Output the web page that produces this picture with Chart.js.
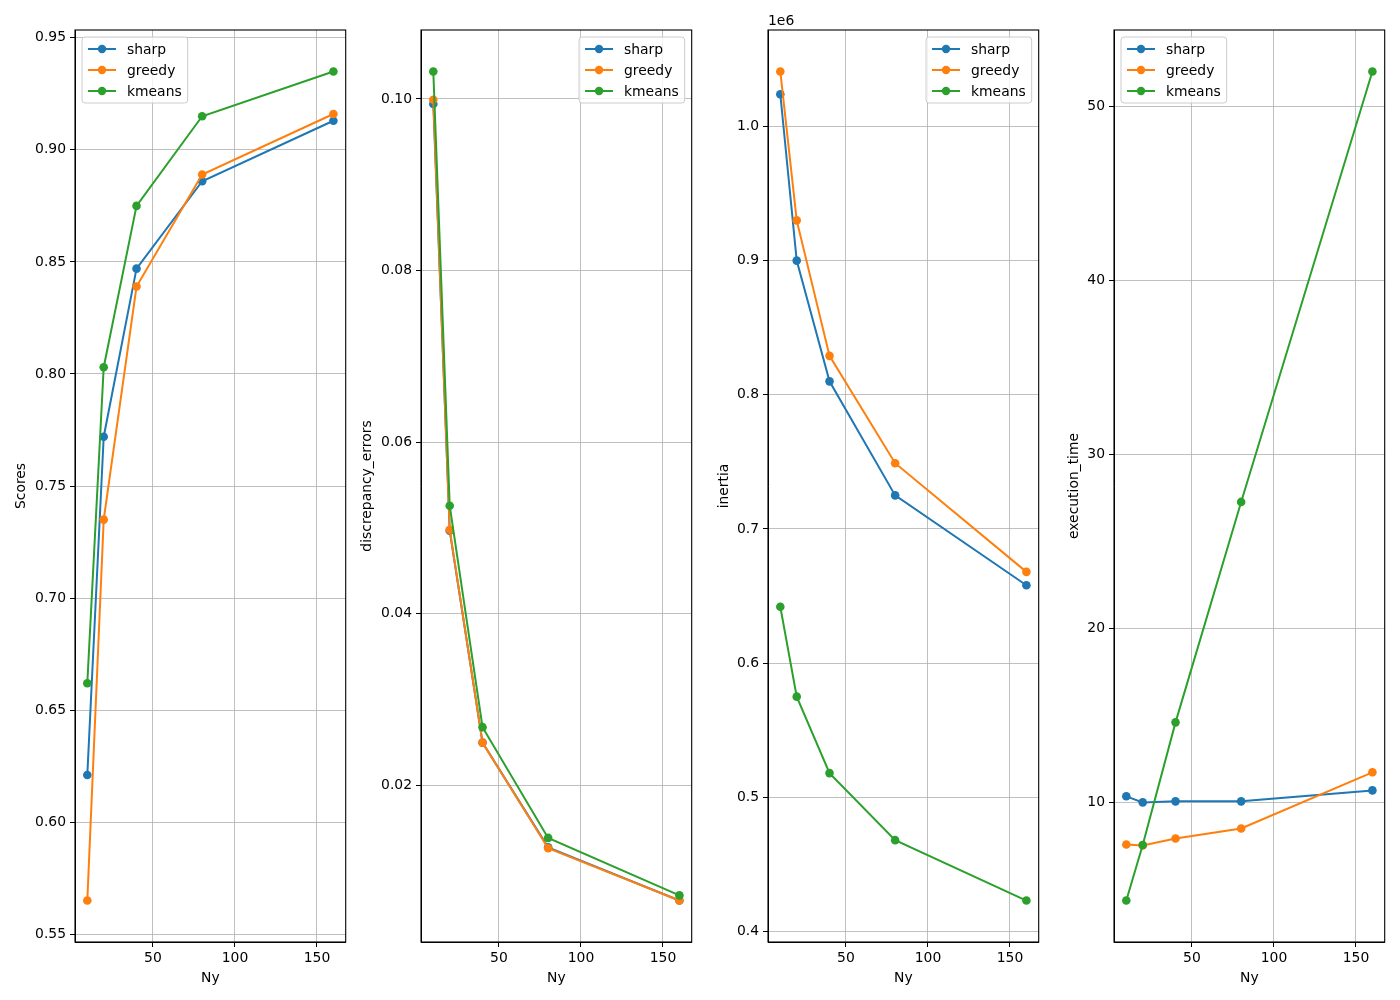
<!DOCTYPE html>
<html>
<head>
<meta charset="utf-8">
<script src="https://cdn.jsdelivr.net/npm/chart.js@4.4.1/dist/chart.umd.min.js"></script>
<style>
    html, body { margin: 0; padding: 0; background: #fff; }
    #wrap { position: relative; width: 1400px; height: 1000px; overflow: hidden; }
    #wrap canvas { position: absolute; top: 0; }
</style>
</head>
<body>
<div id="wrap"></div>
<script>
// values
const ny = [10, 20, 40, 80, 160];
const seriesNames = ['sharp', 'greedy', 'kmeans'];
const seriesColors = ['#1f77b4', '#ff7f0e', '#2ca02c'];

const scoresSharp = [0.621, 0.772, 0.847, 0.886, 0.913];
const scoresGreedy = [0.565, 0.735, 0.839, 0.889, 0.916];
const scoresKmeans = [0.662, 0.803, 0.875, 0.915, 0.935];

const discSharp = [0.0994, 0.0497, 0.0250, 0.0128, 0.0066];
const discGreedy = [0.0999, 0.0498, 0.0250, 0.0127, 0.0066];
const discKmeans = [0.1032, 0.0526, 0.0268, 0.0139, 0.0072];

const inertiaSharp = [1024000, 900000, 810000, 725000, 658000];
const inertiaGreedy = [1041000, 930000, 829000, 749000, 668000];
const inertiaKmeans = [642000, 575000, 518000, 468000, 423000];

const timeSharp = [10.35, 10.0, 10.06, 10.06, 10.69];
const timeGreedy = [7.58, 7.53, 7.93, 8.50, 11.73];
const timeKmeans = [4.36, 7.55, 14.60, 27.27, 52.01];

const xTicks = [50, 100, 150];
const scoresTicks = [0.55, 0.60, 0.65, 0.70, 0.75, 0.80, 0.85, 0.90, 0.95];
const discTicks = [0.02, 0.04, 0.06, 0.08, 0.10];
const inertiaTicks = [400000, 500000, 600000, 700000, 800000, 900000, 1000000];
const timeTicks = [10, 20, 30, 40, 50];

const FONT = 'DejaVu Sans';
const FS = 13.9;

// layout of the four panels (pixels)
const panels = [
    { ylabel: 'Scores', data: [scoresSharp, scoresGreedy, scoresKmeans], ticks: scoresTicks,
      fmt: v => v.toFixed(2), canvasLeft: 9, axisLeft: 75, axisRight: 346, legend: 'left' },
    { ylabel: 'discrepancy_errors', data: [discSharp, discGreedy, discKmeans], ticks: discTicks,
      fmt: v => v.toFixed(2), canvasLeft: 355, axisLeft: 421, axisRight: 692, legend: 'right' },
    { ylabel: 'inertia', data: [inertiaSharp, inertiaGreedy, inertiaKmeans], ticks: inertiaTicks,
      fmt: v => (v / 1e6).toFixed(1), canvasLeft: 712, axisLeft: 768, axisRight: 1039, legend: 'right', offsetText: '1e6' },
    { ylabel: 'execution_time', data: [timeSharp, timeGreedy, timeKmeans], ticks: timeTicks,
      fmt: v => v.toFixed(0), canvasLeft: 1062, axisLeft: 1114, axisRight: 1385, legend: 'left' }
];

function margins(values) {
    const lo = Math.min(...values), hi = Math.max(...values);
    const pad = (hi - lo) * 0.05;
    return [lo - pad, hi + pad];
}

// frame, legend and offset text, drawn the matplotlib way
const axesDecor = {
    id: 'axesDecor',
    afterDraw(chart, args, opts) {
        const ctx = chart.ctx;
        const a = chart.chartArea;
        ctx.save();
        ctx.strokeStyle = '#000';
        ctx.lineWidth = 1.1;
        ctx.strokeRect(a.left, a.top, a.right - a.left, a.bottom - a.top);

        ctx.font = FS + 'px "' + FONT + '"';
        if (opts.offsetText) {
            ctx.fillStyle = '#000';
            ctx.textAlign = 'left';
            ctx.textBaseline = 'middle';
            ctx.fillText(opts.offsetText, a.left, a.top - 9);
        }

        const textW = Math.max(...seriesNames.map(n => ctx.measureText(n).width));
        const w = 6 + 28 + 11 + textW + 6;
        const h = 66;
        const x0 = opts.legend === 'left' ? a.left + 7 : a.right - 7 - w;
        const y0 = a.top + 7;
        ctx.beginPath();
        ctx.roundRect(x0, y0, w, h, 3);
        ctx.fillStyle = 'rgba(255,255,255,0.8)';
        ctx.fill();
        ctx.strokeStyle = '#cccccc';
        ctx.lineWidth = 1;
        ctx.stroke();

        seriesNames.forEach((name, i) => {
            const cy = y0 + 12 + i * 21;
            ctx.strokeStyle = seriesColors[i];
            ctx.lineWidth = 2;
            ctx.beginPath();
            ctx.moveTo(x0 + 6, cy);
            ctx.lineTo(x0 + 34, cy);
            ctx.stroke();
            ctx.fillStyle = seriesColors[i];
            ctx.beginPath();
            ctx.arc(x0 + 20, cy, 4.2, 0, Math.PI * 2);
            ctx.fill();
            ctx.fillStyle = '#000';
            ctx.textAlign = 'left';
            ctx.textBaseline = 'middle';
            ctx.fillText(name, x0 + 45, cy + 1);
        });
        ctx.restore();
    }
};

const wrap = document.getElementById('wrap');
const [xMin, xMax] = margins(ny);

panels.forEach(p => {
    const canvas = document.createElement('canvas');
    const width = p.axisRight + 4 - p.canvasLeft;
    canvas.width = width;
    canvas.height = 1000;
    canvas.style.left = p.canvasLeft + 'px';
    canvas.style.width = width + 'px';
    canvas.style.height = '1000px';
    wrap.appendChild(canvas);

    const [yMin, yMax] = margins(p.data.flat());
    const yWidth = p.axisLeft - p.canvasLeft;

    new Chart(canvas, {
        type: 'line',
        data: {
            datasets: seriesNames.map((name, i) => ({
                label: name,
                data: ny.map((x, j) => ({ x: x, y: p.data[i][j] })),
                borderColor: seriesColors[i],
                backgroundColor: seriesColors[i],
                pointBackgroundColor: seriesColors[i],
                pointBorderWidth: 0,
                pointRadius: 4.3,
                borderWidth: 2,
                tension: 0,
                fill: false,
                order: seriesNames.length - i
            }))
        },
        options: {
            responsive: false,
            animation: false,
            devicePixelRatio: 1,
            layout: { padding: { top: 30, bottom: 9, left: 0, right: 4 } },
            plugins: {
                legend: { display: false },
                tooltip: { enabled: false },
                axesDecor: { legend: p.legend, offsetText: p.offsetText }
            },
            scales: {
                x: {
                    type: 'linear',
                    min: xMin,
                    max: xMax,
                    afterBuildTicks: s => { s.ticks = xTicks.map(v => ({ value: v })); },
                    afterFit: s => { s.height = 49; },
                    grid: { color: '#b0b0b0', lineWidth: 0.8, drawTicks: true, tickLength: 5, tickColor: '#000', tickWidth: 1 },
                    border: { display: true, color: '#000', width: 1 },
                    ticks: { color: '#000', padding: 3, maxRotation: 0, font: { family: FONT, size: FS }, callback: v => String(v) },
                    title: { display: true, text: 'Ny', color: '#000', font: { family: FONT, size: FS } }
                },
                y: {
                    type: 'linear',
                    min: yMin,
                    max: yMax,
                    afterBuildTicks: s => { s.ticks = p.ticks.map(v => ({ value: v })); },
                    afterFit: s => { s.width = yWidth; },
                    grid: { color: '#b0b0b0', lineWidth: 0.8, drawTicks: true, tickLength: 5, tickColor: '#000', tickWidth: 1 },
                    border: { display: true, color: '#000', width: 1 },
                    ticks: { color: '#000', padding: 4, font: { family: FONT, size: FS }, callback: v => p.fmt(v) },
                    title: { display: true, text: p.ylabel, color: '#000', font: { family: FONT, size: FS } }
                }
            }
        },
        plugins: [axesDecor]
    });
});
</script>
</body>
</html>
